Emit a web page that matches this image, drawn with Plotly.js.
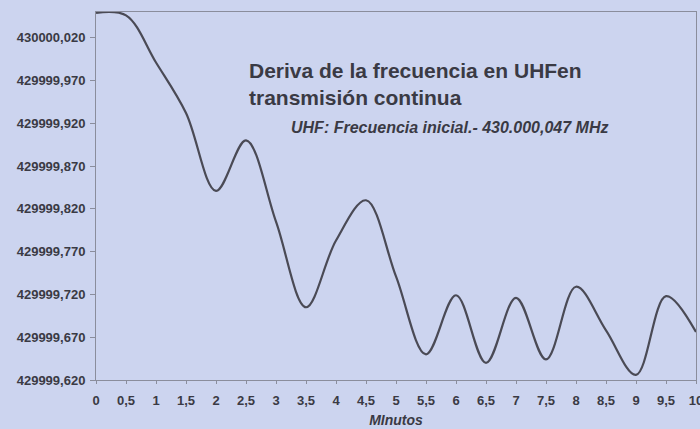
<!DOCTYPE html>
<html>
<head>
<meta charset="utf-8">
<script src="https://cdn.plot.ly/plotly-3.0.1.min.js"></script>
<style>html,body{margin:0;padding:0;background:#ccd4ef;}#chart{width:700px;height:429px;}</style>
</head>
<body>
<div id="chart"></div>
<script>
// Minutes (x)
const minutes = [0,0.5,1,1.5,2,2.5,3,3.5,4,4.5,5,5.5,6,6.5,7,7.5,8,8.5,9,9.5,10];
// Frequency (MHz)
const frequency = [
  430000.049,430000.046,429999.991,429999.932,429999.841,429999.900,429999.805,
  429999.705,429999.783,429999.830,429999.741,429999.650,429999.719,429999.640,
  429999.716,429999.644,429999.729,429999.678,429999.626,429999.718,429999.676
];
const titleLines = ["Deriva de la frecuencia en UHFen", "transmisión continua"];
const subtitle = "UHF: Frecuencia inicial.- 430.000,047 MHz";
const xTitle = "MInutos";

const bg = "#ccd4ef";
const ff = "Liberation Sans, Arial, sans-serif";
const txt = "#3a3a44";
const data = [{
  x: minutes, y: frequency, type: "scatter", mode: "lines",
  line: {color: "#4a4a55", width: 2.2, shape: "spline", smoothing: 1},
  hoverinfo: "none"
}];
const layout = {
  width: 700, height: 429,
  paper_bgcolor: bg, plot_bgcolor: bg,
  separators: ",.",
  margin: {l: 96, r: 4, t: 12, b: 49},
  showlegend: false,
  font: {family: ff, color: txt},
  xaxis: {
    range: [0, 10], tick0: 0, dtick: 0.5, showgrid: false, zeroline: false,
    showline: true, linecolor: "#8a8d9c", linewidth: 1, mirror: true,
    ticks: "outside", ticklen: 3, tickcolor: "#8a8d9c",
    tickfont: {size: 13, family: ff, color: txt, weight: "bold"},
    ticklabelstandoff: 5, ticklabeloverflow: "allow",
    title: {text: xTitle, standoff: 8, font: {size: 14, family: ff, color: txt, style: "italic", weight: "bold"}}
  },
  yaxis: {
    range: [429999.62, 430000.05], tick0: 429999.62, dtick: 0.05, tickformat: ".3f",
    showgrid: false, zeroline: false,
    showline: true, linecolor: "#8a8d9c", linewidth: 1, mirror: true,
    ticks: "outside", ticklen: 5, tickcolor: "#8a8d9c",
    tickfont: {size: 13, family: ff, color: txt, weight: "bold"},
    ticklabelstandoff: 2
  },
  annotations: [
    {xref: "paper", yref: "paper", x: (247-96)/600, y: (380-57)/368, xanchor: "left", yanchor: "top", align: "left",
     showarrow: false, text: titleLines.join("<br>"),
     font: {size: 21, family: ff, color: txt, weight: "bold"}},
    {xref: "paper", yref: "paper", x: (289-96)/600, y: (380-117)/368, xanchor: "left", yanchor: "top",
     showarrow: false, text: "<i>" + subtitle + "</i>",
     font: {size: 16, family: ff, color: txt, weight: "bold"}}
  ]
};
Plotly.newPlot("chart", data, layout, {staticPlot: true, displayModeBar: false});
</script>
</body>
</html>
